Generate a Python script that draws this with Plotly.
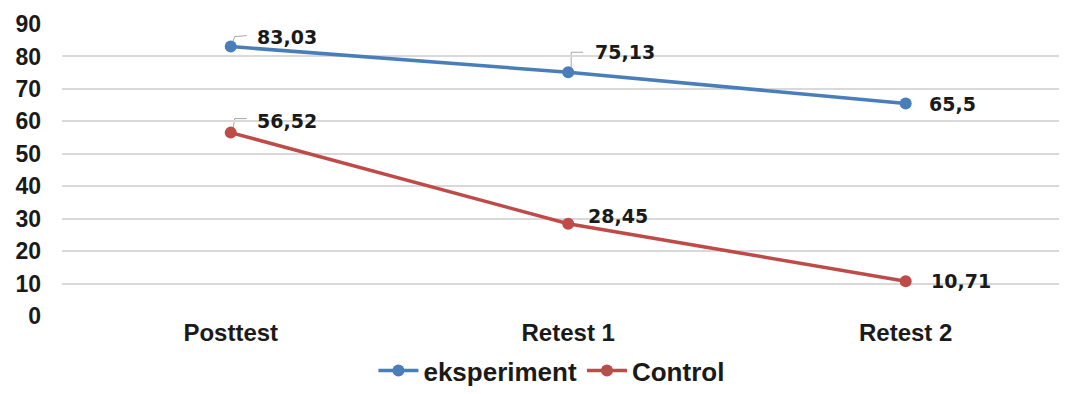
import plotly.graph_objects as go

categories = ["Posttest", "Retest 1", "Retest 2"]
eksperiment = [83.03, 75.13, 65.5]
control = [56.52, 28.45, 10.71]
eks_labels = ["83,03", "75,13", "65,5"]
ctl_labels = ["56,52", "28,45", "10,71"]
y_ticks = [0, 10, 20, 30, 40, 50, 60, 70, 80, 90]

BLUE = "#4a7ebb"
RED = "#be4b48"
xs = list(range(len(categories)))

fig = go.Figure()
fig.add_trace(go.Scatter(x=xs, y=eksperiment, mode="lines+markers", name="eksperiment",
                         line=dict(color=BLUE, width=3.5), marker=dict(size=12, color=BLUE)))
fig.add_trace(go.Scatter(x=xs, y=control, mode="lines+markers", name="Control",
                         line=dict(color=RED, width=3.5), marker=dict(size=12, color=RED)))

label_font = dict(family="DejaVu Sans", size=19, color="#1a1a1a", weight="bold")
# (xshift, yshift) per label
eks_off = [(24, 10), (25, 20), (21, -1)]
ctl_off = [(24, 12), (18, 8), (23, 0)]
annotations = []
for i, (v, t) in enumerate(zip(eksperiment, eks_labels)):
    annotations.append(dict(x=i, y=v, xref="x", yref="y", text=t, showarrow=False,
                            xanchor="left", yanchor="middle", xshift=eks_off[i][0],
                            yshift=eks_off[i][1], font=label_font))
for i, (v, t) in enumerate(zip(control, ctl_labels)):
    annotations.append(dict(x=i, y=v, xref="x", yref="y", text=t, showarrow=False,
                            xanchor="left", yanchor="middle", xshift=ctl_off[i][0],
                            yshift=ctl_off[i][1], font=label_font))

# callout leader lines (pixel offsets anchored to data points)
leaders = [
    (0, eksperiment[0], "M1,2 L4,10 L16,11"),
    (1, eksperiment[1], "M3,3 L3,20 L15,20"),
    (0, control[0], "M2,2 L4,14 L16,14"),
]
shapes = []
for xi, yv, p in leaders:
    shapes.append(dict(type="path", xref="x", yref="y", xsizemode="pixel", ysizemode="pixel",
                       xanchor=xi, yanchor=yv, path=p, line=dict(color="#a6a6a6", width=1),
                       layer="below"))

axis_font = dict(family="Liberation Sans, Arial", size=23, color="#1a1a1a", weight="bold")
fig.update_layout(
    width=1059, height=386,
    margin=dict(l=54, r=0, t=16, b=78),
    paper_bgcolor="white", plot_bgcolor="white",
    annotations=annotations, shapes=shapes,
    showlegend=True,
    legend=dict(orientation="h", x=0.487, xanchor="center", xref="paper",
                y=0.0, yref="container", yanchor="bottom",
                font=dict(family="Liberation Sans, Arial", size=26, color="#1a1a1a", weight="bold"),
                itemwidth=40),
    xaxis=dict(range=[-0.5, 2.478], tickvals=xs, ticktext=categories, showgrid=False,
               zeroline=False, showline=False, ticks="", automargin=False,
               tickfont=dict(family="Liberation Sans, Arial", size=24, color="#1a1a1a", weight="bold")),
    yaxis=dict(range=[0, 90], tickvals=y_ticks, showgrid=True, gridcolor="#d9d9d9", gridwidth=1.5,
               zeroline=False, showline=False, ticks="", ticklabelstandoff=20, automargin=False,
               tickfont=axis_font),
)

fig.write_html("out.html")
